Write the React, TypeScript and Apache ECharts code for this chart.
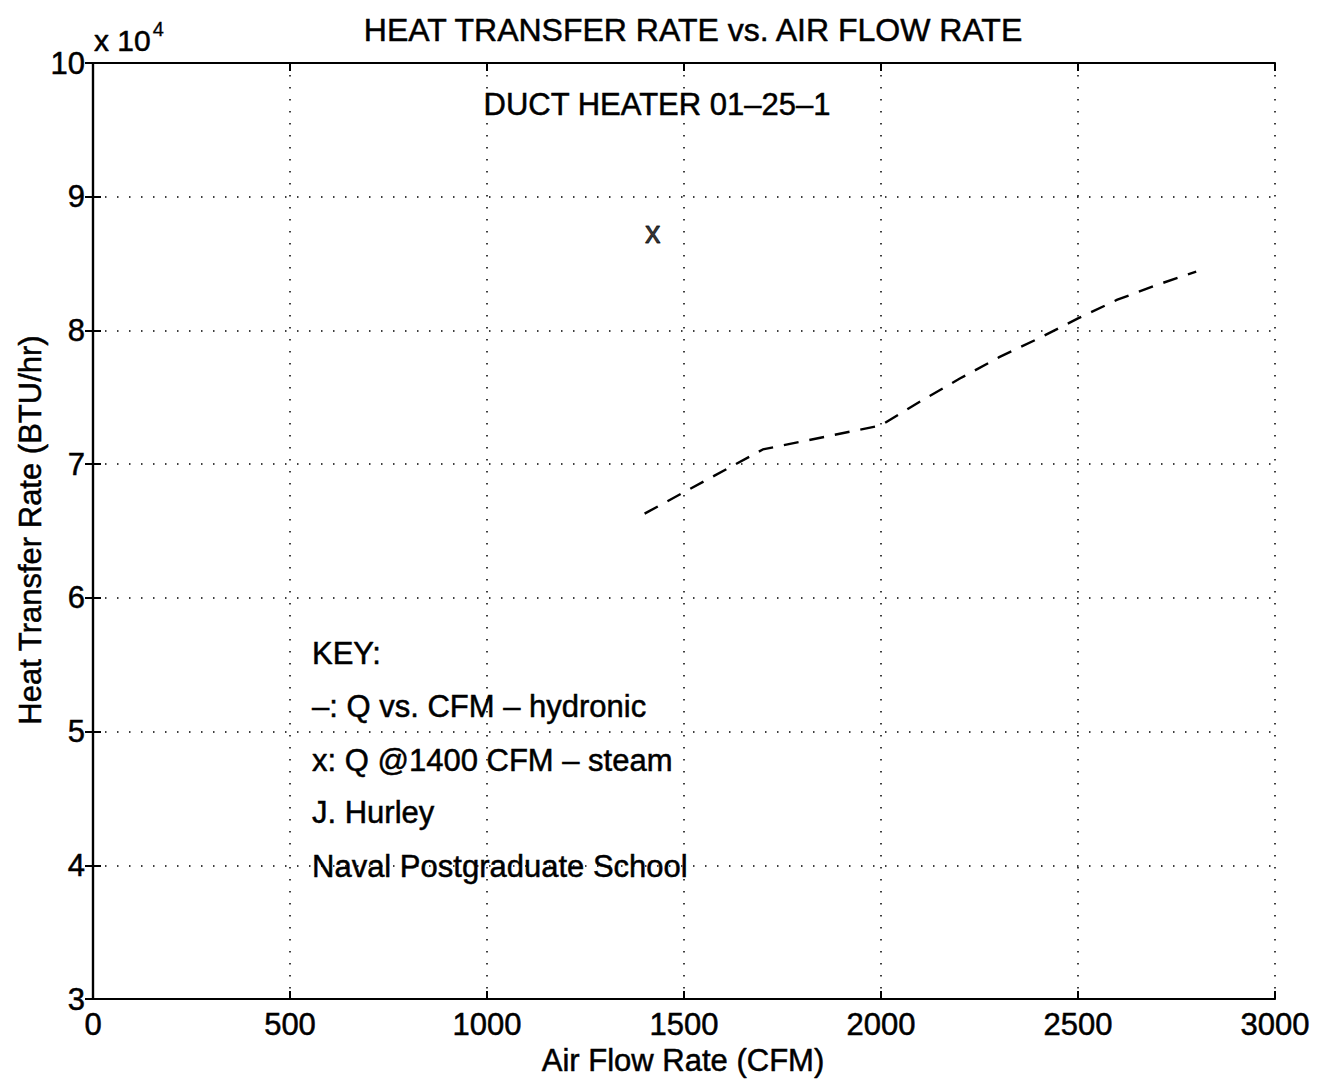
import React, { useEffect, useRef } from "react";
import * as echarts from "echarts";

const titleText = "HEAT TRANSFER RATE vs. AIR FLOW RATE";
const subtitleText = "DUCT HEATER 01–25–1";
const xAxisName = "Air Flow Rate (CFM)";
const yAxisName = "Heat Transfer Rate (BTU/hr)";
const keyLines = [
  "KEY:",
  "–: Q vs. CFM – hydronic",
  "x: Q @1400 CFM – steam",
  "J. Hurley",
  "Naval Postgraduate School",
];

const hydronicCFM = [1400, 1700, 2000, 2100, 2200, 2300, 2400, 2500, 2600, 2700, 2800];
const hydronicQ = [66300, 71100, 72900, 74700, 76400, 78000, 79400, 80900, 82300, 83400, 84400];

const steamCFM = [1400];
const steamQ = [87300];

const FONT = "Liberation Sans";
const FS = 31;
const STROKE = 0.5;

export default function App() {
  const ref = useRef<HTMLDivElement>(null);

  useEffect(() => {
    if (!ref.current) return;
    const chart = echarts.init(ref.current, undefined, { renderer: "svg" });
    const gridDash = { color: "#000", width: 1.5, type: [1.5, 10.5] as any };
    const tick = { show: true, inside: true, length: 8, lineStyle: { color: "#000", width: 2 } };
    const axisLine = { show: true, lineStyle: { color: "#000", width: 2.2 } };
    const txt = (t: string, x: number, y: number, align: string, size = FS, rotation = 0) => ({
      type: "text",
      x,
      y,
      rotation,
      style: {
        text: t,
        font: `${size}px '${FONT}'`,
        fill: "#000",
        stroke: "#000",
        lineWidth: STROKE,
        textAlign: align,
        textVerticalAlign: "middle",
      },
    });
    const option: any = {
      animation: false,
      backgroundColor: "#fff",
      grid: { left: 93, top: 63, right: 42, bottom: 84, containLabel: false },
      xAxis: [
        {
          type: "value",
          min: 0,
          max: 3000,
          interval: 500,
          position: "bottom",
          axisLine,
          axisTick: tick,
          splitLine: { show: true, lineStyle: gridDash },
          axisLabel: {
            color: "#000",
            fontFamily: FONT,
            fontSize: FS,
            margin: 10,
            textBorderColor: "#000",
            textBorderWidth: STROKE,
            formatter: (v: number) => String(v),
          },
        },
        {
          type: "value",
          min: 0,
          max: 3000,
          interval: 500,
          position: "top",
          axisLine,
          axisTick: tick,
          splitLine: { show: false },
          axisLabel: { show: false },
        },
      ],
      yAxis: [
        {
          type: "value",
          min: 30000,
          max: 100000,
          interval: 10000,
          position: "left",
          axisLine,
          axisTick: tick,
          splitLine: { show: true, lineStyle: gridDash },
          axisLabel: {
            color: "#000",
            fontFamily: FONT,
            fontSize: FS,
            margin: 8,
            textBorderColor: "#000",
            textBorderWidth: STROKE,
            formatter: (v: number) => String(v / 10000),
          },
        },
        {
          type: "value",
          min: 30000,
          max: 100000,
          interval: 10000,
          position: "right",
          axisLine,
          axisTick: tick,
          splitLine: { show: false },
          axisLabel: { show: false },
        },
      ],
      series: [
        {
          type: "line",
          data: hydronicCFM.map((c, i) => [c, hydronicQ[i]]),
          showSymbol: false,
          symbol: "none",
          lineStyle: { color: "#000", width: 2.4, type: [15, 11] },
          silent: true,
        },
        {
          type: "scatter",
          data: steamCFM.map((c, i) => [c, steamQ[i]]),
          symbol: "circle",
          symbolSize: 1,
          itemStyle: { color: "rgba(0,0,0,0)" },
          label: {
            show: true,
            position: "right",
            distance: 0,
            formatter: "x",
            color: "#000",
            fontFamily: FONT,
            fontSize: FS,
            textBorderColor: "#000",
            textBorderWidth: 0.8,
          },
          silent: true,
        },
      ],
      graphic: [
        txt(titleText, 693, 30, "center", 32),
        txt(subtitleText, 657, 104, "center"),
        {
          type: "text",
          x: 94,
          y: 40,
          style: {
            text: "{a|x 10}{b|4}",
            rich: {
              a: { fontFamily: FONT, fontSize: 30, fill: "#000", stroke: "#000", lineWidth: STROKE } as any,
              b: {
                fontFamily: FONT,
                fontSize: 20,
                fill: "#000",
                stroke: "#000",
                lineWidth: 0.3,
                padding: [0, 0, 22, 2],
              } as any,
            },
            fill: "#000",
            textVerticalAlign: "middle",
          } as any,
        },
        txt(xAxisName, 683, 1060, "center"),
        txt(yAxisName, 30, 530, "center", FS, Math.PI / 2),
        ...keyLines.map((t, i) => txt(t, 312, [653, 706, 760, 812, 866][i], "left")),
      ],
    };
    chart.setOption(option);
    return () => chart.dispose();
  }, []);

  return (
    <div
      ref={ref}
      style={{ position: "fixed", left: 0, top: 0, width: 1317, height: 1083, background: "#fff" }}
    />
  );
}
